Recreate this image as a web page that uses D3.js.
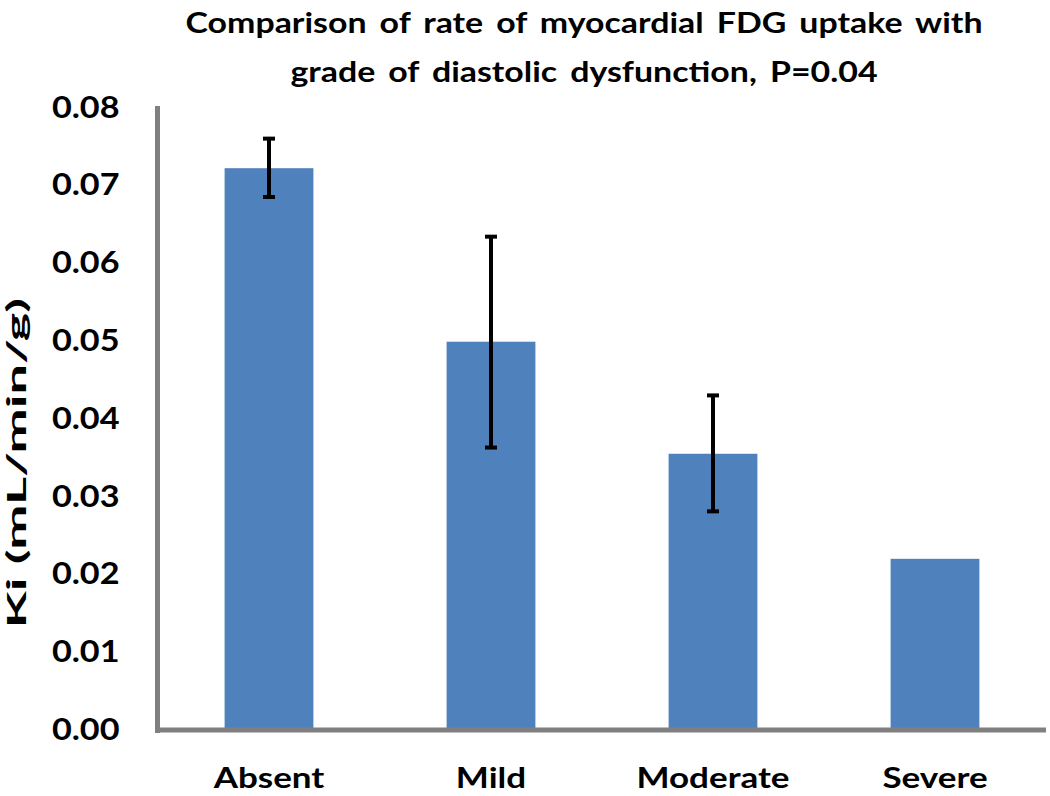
<!DOCTYPE html>
<html><head><meta charset="utf-8">
<script src="https://cdn.jsdelivr.net/npm/d3@7/dist/d3.min.js"></script>
<style>body{margin:0;background:#fff}svg{display:block}</style>
</head><body>
<svg id="c" width="1050" height="796"></svg>
<script>
const categories = ["Absent", "Mild", "Moderate", "Severe"];
const values = [0.0722, 0.0499, 0.0355, 0.0220];
const errHigh = [0.0760, 0.0634, 0.0430, null];
const errLow = [0.0685, 0.0363, 0.0281, null];
const yTicks = [0, 0.01, 0.02, 0.03, 0.04, 0.05, 0.06, 0.07, 0.08];
const titleLines = ["Comparison of rate of myocardial FDG uptake with", "grade of diastolic dysfunction, P=0.04"];
const yLabel = "Ki (mL/min/g)";

const font = "Lato, 'Open Sans', sans-serif";
// widen text horizontally by a factor (reference font is wider than Lato)
function widen(sel, factor) {
  sel.each(function () {
    const w = this.getComputedTextLength();
    d3.select(this).attr("textLength", w * factor).attr("lengthAdjust", "spacingAndGlyphs");
  });
}

const svg = d3.select("#c");
const x = d3.scaleBand().domain(categories).range([158, 1046]).paddingInner(0.6).paddingOuter(0.3);
const y = d3.scaleLinear().domain([0, 0.08]).range([730, 107.5]);

// bars
svg.append("g").selectAll("rect").data(categories).join("rect")
  .attr("x", d => x(d)).attr("width", x.bandwidth())
  .attr("y", (d, i) => y(values[i])).attr("height", (d, i) => y(0) - y(values[i]))
  .attr("fill", "#4F81BD");

// error bars
const eg = svg.append("g").attr("stroke", "#000").attr("stroke-width", 4);
categories.forEach((c, i) => {
  if (errHigh[i] == null) return;
  const cx = x(c) + x.bandwidth() / 2;
  eg.append("line").attr("x1", cx).attr("x2", cx).attr("y1", y(errHigh[i])).attr("y2", y(errLow[i]));
  [errHigh[i], errLow[i]].forEach(v => {
    eg.append("line").attr("x1", cx - 6).attr("x2", cx + 6).attr("y1", y(v)).attr("y2", y(v));
  });
});

// y axis
const yAxis = d3.axisLeft(y).tickValues(yTicks).tickFormat(d3.format(".2f")).tickSize(0).tickPadding(38);
const ya = svg.append("g").attr("transform", "translate(157.5,0)").call(yAxis);
ya.select(".domain").remove();
ya.selectAll("text").attr("font-family", font).attr("font-weight", "bold").attr("font-size", 30).attr("fill", "#000");
widen(ya.selectAll("text"), 1.14);
svg.append("line").attr("x1", 157.5).attr("x2", 157.5).attr("y1", 106).attr("y2", 733)
  .attr("stroke", "#808080").attr("stroke-width", 5);

// x axis
const xAxis = d3.axisBottom(x).tickSize(0).tickPadding(38);
const xa = svg.append("g").attr("transform", "translate(0,730)").call(xAxis);
xa.select(".domain").remove();
xa.selectAll("text").attr("font-family", font).attr("font-weight", "bold").attr("font-size", 28).attr("fill", "#000");
widen(xa.selectAll("text"), 1.25);
svg.append("line").attr("x1", 155).attr("x2", 1046).attr("y1", 730).attr("y2", 730)
  .attr("stroke", "#808080").attr("stroke-width", 5);

// title
const tt = svg.append("g").selectAll("text").data(titleLines).join("text")
  .attr("x", 584).attr("y", (d, i) => 33 + i * 49).attr("text-anchor", "middle")
  .attr("font-family", font).attr("font-weight", "bold").attr("font-size", 28).attr("fill", "#000")
  .attr("word-spacing", 4)
  .text(d => d);
widen(tt, 1.21);

// y label
const yl = svg.append("text").attr("transform", "translate(26,463) rotate(-90)").attr("text-anchor", "middle")
  .attr("font-family", font).attr("font-weight", "bold").attr("font-size", 27).attr("fill", "#000")
  .text(yLabel);
widen(yl, 2.0);
</script>
</body></html>
